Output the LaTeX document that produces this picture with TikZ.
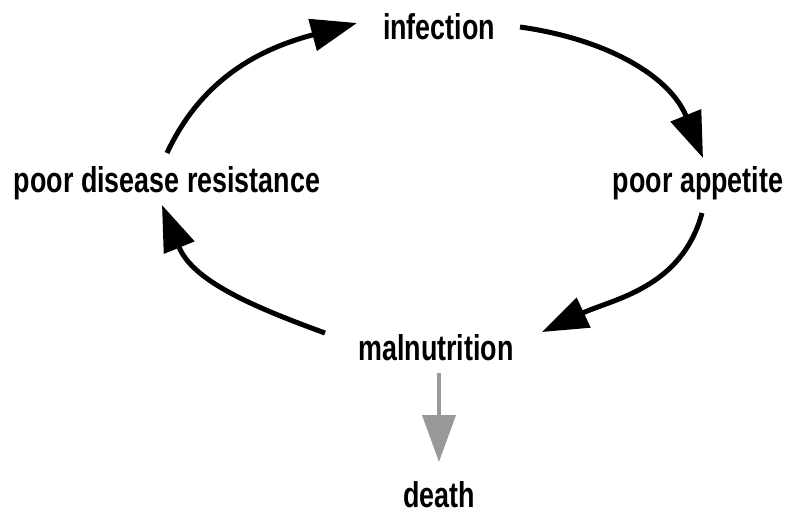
\documentclass[tikz,border=0pt]{standalone}
\usepackage{fontspec}
\setmainfont[FakeStretch=0.75]{Liberation Sans}
\usetikzlibrary{arrows.meta}

\begin{document}
\begin{tikzpicture}[x=0.02cm,y=0.02cm,
	lbl/.style={inner sep=0pt,font=\fontsize{20.4}{24}\selectfont\bfseries},
	cyc/.style={line width=0.1cm,-{Triangle[length=0.92cm,width=0.64cm]}},
	fin/.style={line width=0.08cm,draw=black!40,-{Triangle[length=0.94cm,width=0.66cm]}}]
	\useasboundingbox (0,0) rectangle (795,522);
	\node[lbl] (inf) at (439,495) {infection};
	\node[lbl] (pdr) at (167,339) {poor disease resistance};
	\node[lbl] (pa)  at (698,339) {poor appetite};
	\node[lbl] (mal) at (436,174) {malnutrition};
	\node[lbl] (dth) at (439,27)  {death};
	%
	\draw[cyc] ([shift={(0,30)}]pdr.center)    to[out=65,in=195]  ([shift={(-82,4)}]inf.center);
	\draw[cyc] ([shift={(81,0)}]inf.center)    to[out=-8,in=112]  ([shift={(5,25)}]pa.center);
	\draw[cyc] ([shift={(4,-30)}]pa.center)    to[out=-105,in=25] ([shift={(106,16)}]mal.center);
	\draw[cyc] ([shift={(-111,15)}]mal.center) to[out=160,in=-68] ([shift={(-5,-22)}]pdr.center);
	%
	\draw[fin] ([shift={(3,-25)}]mal.center) -- ([shift={(0,33)}]dth.center);
\end{tikzpicture}
\end{document}
